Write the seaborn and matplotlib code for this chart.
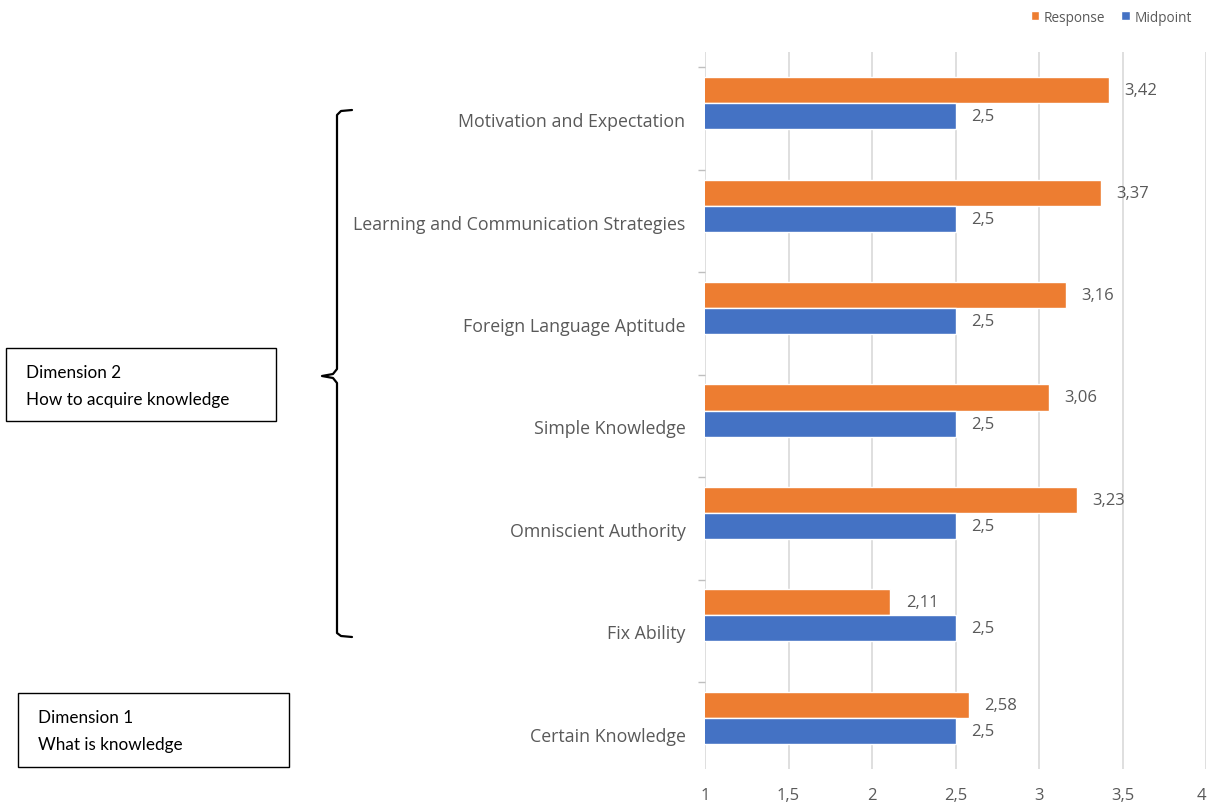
import numpy as np
import pandas as pd
import matplotlib
matplotlib.use("Agg")
import matplotlib.pyplot as plt
from matplotlib.lines import Line2D
from matplotlib.patches import Rectangle
import matplotlib.transforms as mtransforms
import seaborn as sns

# -----------------------------
# Data
# -----------------------------
categories = [
    "Motivation and Expectation",
    "Learning and Communication Strategies",
    "Foreign Language Aptitude",
    "Simple Knowledge",
    "Omniscient Authority",
    "Fix Ability",
    "Certain Knowledge",
]
response = [3.42, 3.37, 3.16, 3.06, 3.23, 2.11, 2.58]
midpoint = [2.5, 2.5, 2.5, 2.5, 2.5, 2.5, 2.5]
series_names = ["Response", "Midpoint"]
x_ticks = [1, 1.5, 2, 2.5, 3, 3.5, 4]

ORANGE = "#ED7D31"
BLUE = "#4472C4"
GREY_TXT = "#595959"

W, H = 1208, 803


def px(x, y):
    # pixel position -> figure fraction
    return x / W, 1 - y / H


df = pd.DataFrame({
    "category": categories * 2,
    "value": response + midpoint,
    "series": [series_names[0]] * len(categories) + [series_names[1]] * len(categories),
})

sns.set_theme(style="white")
plt.rcParams["font.family"] = ["Open Sans", "DejaVu Sans"]

fig = plt.figure(figsize=(W / 100, H / 100), dpi=100)
ax = fig.add_axes([705 / W, 1 - 770 / H, (1206 - 705) / W, (770 - 53) / H])

sns.barplot(
    data=df, x="value", y="category", hue="series",
    hue_order=series_names, order=categories,
    palette=[ORANGE, BLUE], orient="h", width=0.51,
    saturation=1, ax=ax, legend=True,
)

ax.set_xlim(1, 4)
ax.set_ylim(len(categories) - 0.5, -0.5)
ax.set_xticks(x_ticks)
ax.set_xticklabels([f"{t:g}".replace(".", ",") for t in x_ticks],
                   color=GREY_TXT, fontsize=12)
ax.tick_params(axis="x", length=0, pad=13)
# last label would fall off the right edge, keep it inside
ax.get_xticklabels()[-1].set_horizontalalignment("right")
ax.grid(axis="x", color="#D9D9D9", linewidth=1.2)
ax.set_axisbelow(True)
for s in ax.spines.values():
    s.set_visible(False)
ax.set_xlabel("")
ax.set_ylabel("")

# category labels sit a bit lower than the bar pair centre
ax.set_yticks(range(len(categories)))
ax.set_yticklabels(categories, color=GREY_TXT, fontsize=12.8)
ax.tick_params(axis="y", length=0, pad=14)
offset = mtransforms.ScaledTranslation(0, -16 / 100, fig.dpi_scale_trans)
for lbl in ax.get_yticklabels():
    lbl.set_transform(lbl.get_transform() + offset)
ax.set_yticks([i - 0.35 for i in range(len(categories))], minor=True)
ax.tick_params(axis="y", which="minor", length=5, color="#BFBFBF", width=1, left=True)

# value labels
down = mtransforms.ScaledTranslation(0, -2 / 100, fig.dpi_scale_trans)
for cont in ax.containers:
    texts = ax.bar_label(cont, labels=[f"{v:g}".replace(".", ",") for v in cont.datavalues],
                         padding=11, color=GREY_TXT, fontsize=12)
    for t in texts:
        t.set_transform(t.get_transform() + down)

# legend
handles, labels = ax.get_legend_handles_labels()
ax.get_legend().remove()
fig.legend(handles, labels, loc="center right", bbox_to_anchor=px(1204, 18),
           ncol=2, frameon=False, fontsize=9.8, handlelength=0.6, handleheight=0.6,
           handletextpad=0.35, columnspacing=1.2, labelcolor=GREY_TXT)

# dimension boxes
for (x0, y0, x1, y1), lines in [
    ((6, 349, 276, 422), ["Dimension 2", "How to acquire knowledge"]),
    ((18, 694, 289, 768), ["Dimension 1", "What is knowledge"]),
]:
    fx, fy = px(x0, y1)
    fig.patches.append(Rectangle((fx, fy), (x1 - x0) / W, (y1 - y0) / H,
                                 transform=fig.transFigure, fill=False,
                                 edgecolor="black", linewidth=1))
    for k, t in enumerate(lines):
        tx, ty = px(x0 + 20, y0 + 24.5 + k * 26.5)
        fig.text(tx, ty, t, fontsize=12.3, family=["Lato", "DejaVu Sans"],
                 va="center", ha="left", color="black")

# curly brace for dimension 2
brace = [(352, 111), (341, 112), (337, 116), (337, 370), (333, 375), (322, 377),
         (333, 379), (337, 384), (337, 634), (341, 637), (352, 638)]
bx = [px(x, y)[0] for x, y in brace]
by = [px(x, y)[1] for x, y in brace]
fig.lines.append(Line2D(bx, by, transform=fig.transFigure, color="black",
                        linewidth=1.6, solid_joinstyle="round"))

fig.savefig("out.png", dpi=100)
